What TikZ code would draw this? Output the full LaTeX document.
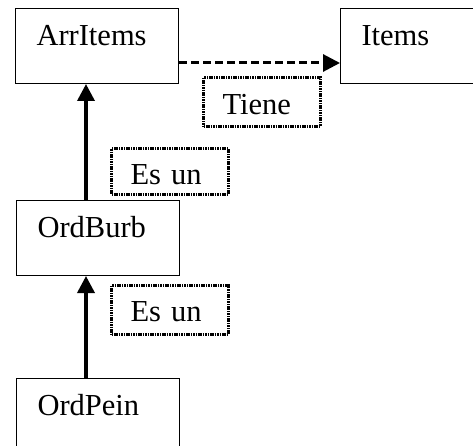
\documentclass[tikz,border=0pt]{standalone}
\usepackage{fontspec}
\setmainfont{Liberation Serif}
\usetikzlibrary{arrows.meta}
\begin{document}
\begin{tikzpicture}[x=1pt,y=-1pt,
  cls/.style={draw, line width=1pt, anchor=north west, inner sep=0pt,
    inner xsep=21pt, minimum width=163pt, text width=121pt, align=left,
    font=\fontsize{30.5}{31}\selectfont, text height=37pt, text depth=38pt},
  lbl/.style={draw, line width=3pt, dash pattern=on 1.6pt off 0.8pt,
    anchor=north west, inner sep=0pt, inner xsep=19pt, text width=79pt,
    align=left, font=\fontsize{30.5}{31}\selectfont},
  inh/.style={line width=3.5pt, -{Triangle[length=17pt,width=17pt]}},
  has/.style={line width=3pt, dash pattern=on 8pt off 4pt,
    -{Triangle[length=17pt,width=17pt]}}]
\useasboundingbox (0,0) rectangle (473,446);
\clip (0,0) rectangle (473,446);
\fill[white] (0,0) rectangle (473,446);
\node[cls] (ai) at (15,8) {ArrItems};
\node[cls] (it) at (340,8) {Items};
\node[cls] (ob) at (16,200) {OrdBurb};
\node[cls, text depth=40pt] (op) at (16,378) {OrdPein};
\node[lbl, text height=37pt, text depth=12pt] (t) at (202,76) {Tiene};
\node[lbl, text height=36pt, text depth=10pt] (e1) at (110,147) {Es un};
\node[lbl, text height=36pt, text depth=13pt] (e2) at (110,284) {Es un};
\draw[has] ([yshift=21pt]ai.south east) -- ([yshift=21pt]it.south west);
\draw[inh] ([xshift=70pt]ob.north west) -- ([xshift=71pt]ai.south west);
\draw[inh] ([xshift=70pt]op.north west) -- ([xshift=70pt]ob.south west);
\end{tikzpicture}
\end{document}
